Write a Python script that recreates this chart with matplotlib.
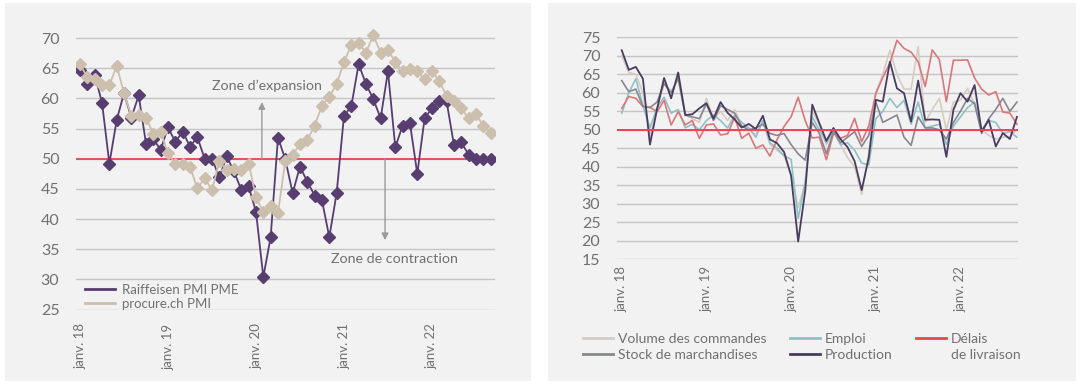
import numpy as np
import matplotlib
matplotlib.use('Agg')
import matplotlib.pyplot as plt
from matplotlib.patches import Rectangle
from matplotlib.lines import Line2D

plt.rcParams['font.family'] = ['Lato', 'DejaVu Sans']

##------------- data -----------------
mois = np.arange(57)                      # janv. 18 ... sept. 22
tick_pos = [0, 12, 24, 36, 48]
tick_lab = ['janv. 18', 'janv. 19', 'janv. 20', 'janv. 21', 'janv. 22']

# gauche : PMI
raiffeisen = [64.8, 62.4, 63.9, 59.3, 49.2, 56.4, 60.9, 56.8, 60.5, 52.5,
              53.2, 51.5, 55.2, 52.8, 54.5, 52.0, 53.6, 50.0, 50.0, 46.9,
              50.4, 47.9, 44.8, 45.4, 41.2, 30.4, 37.0, 53.5, 49.9, 44.3,
              48.7, 46.2, 43.9, 43.1, 37.0, 44.3, 57.1, 58.7, 65.7, 62.4,
              59.9, 56.7, 64.5, 51.9, 55.5, 55.9, 47.5, 56.7, 58.4, 59.6,
              59.5, 52.3, 52.7, 50.7, 49.9, 49.9, 49.9]
procure = [65.7, 63.5, 63.3, 62.2, 62.2, 65.4, 60.9, 57.1, 57.2, 56.8,
           54.1, 54.5, 50.9, 49.2, 49.2, 48.7, 45.1, 46.8, 44.8, 49.6,
           48.1, 48.3, 48.1, 49.2, 43.6, 41.2, 42.2, 41.0, 49.7, 50.7,
           52.4, 53.1, 55.5, 58.8, 60.3, 62.4, 66.0, 68.9, 69.2, 67.6,
           70.5, 67.6, 68.0, 66.1, 64.5, 64.9, 64.5, 63.2, 64.5, 62.9,
           60.4, 59.6, 58.4, 56.7, 57.5, 55.4, 54.3]

# droite : sous-indices
volume = [70.0, 65.5, 65.0, 60.0, 48.0, 56.0, 62.5, 60.5, 63.5, 54.0,
          53.0, 52.0, 58.5, 53.0, 55.0, 52.5, 55.5, 51.0, 50.5, 48.5,
          52.5, 46.0, 44.5, 43.0, 38.0, 29.0, 35.5, 55.0, 51.5, 46.0,
          49.5, 46.0, 42.5, 40.0, 32.5, 43.5, 60.0, 65.0, 71.5, 65.0,
          61.0, 61.0, 72.5, 52.0, 55.5, 58.5, 50.0, 57.5, 58.0, 61.2,
          57.0, 50.0, 48.5, 47.5, 48.0, 48.2, 50.0]
emploi = [54.5, 60.0, 63.8, 56.5, 50.5, 56.0, 58.8, 54.5, 55.5, 50.5,
          51.5, 50.0, 52.5, 54.0, 52.5, 50.5, 54.0, 52.0, 50.5, 48.0,
          52.5, 46.5, 45.0, 43.0, 42.0, 26.0, 36.0, 53.5, 50.0, 46.5,
          50.0, 46.0, 46.5, 44.5, 41.0, 40.5, 53.0, 55.0, 58.5, 56.0,
          58.0, 51.5, 57.5, 50.5, 51.0, 51.5, 46.0, 51.0, 53.5, 56.0,
          57.5, 50.0, 52.5, 52.0, 49.0, 49.5, 48.0]
delais = [55.8, 59.0, 58.5, 56.3, 56.1, 54.9, 57.9, 51.3, 54.9, 51.3,
          52.5, 47.7, 51.3, 51.6, 48.6, 48.9, 53.4, 47.7, 49.1, 45.0,
          45.9, 42.9, 47.3, 50.9, 53.5, 58.8, 52.5, 47.8, 48.0, 41.9,
          49.0, 47.7, 48.5, 53.1, 46.8, 51.0, 59.8, 64.2, 68.0, 74.2,
          72.0, 71.0, 68.4, 61.7, 71.6, 69.0, 57.6, 68.8, 68.8, 68.9,
          64.0, 61.0, 59.4, 60.3, 54.8, 54.5, 51.5]
stock = [63.3, 60.3, 61.0, 56.3, 56.0, 57.5, 62.5, 60.0, 64.0, 54.0,
         53.5, 53.0, 57.0, 52.5, 56.5, 55.5, 54.5, 51.0, 50.0, 50.5,
         51.5, 49.0, 48.5, 49.0, 46.0, 43.5, 41.8, 52.0, 49.0, 43.5,
         49.5, 46.5, 48.0, 49.5, 45.5, 48.5, 57.5, 52.0, 53.0, 54.0,
         48.0, 45.8, 53.5, 50.5, 50.5, 50.0, 47.5, 52.0, 55.0, 58.5,
         57.0, 49.0, 53.0, 55.5, 58.5, 55.0, 57.5]
production = [71.5, 66.2, 67.0, 63.8, 46.0, 55.5, 64.0, 58.5, 65.5, 54.0,
              54.2, 55.8, 57.2, 53.0, 57.5, 54.6, 52.8, 50.6, 51.6, 50.2,
              53.8, 47.4, 46.4, 44.0, 37.6, 19.8, 33.5, 56.8, 51.8, 47.0,
              50.5, 47.5, 45.3, 41.5, 33.7, 42.5, 58.1, 57.6, 68.4, 61.2,
              59.9, 52.2, 63.3, 52.7, 52.8, 52.7, 42.7, 55.4, 59.9, 57.6,
              62.1, 49.5, 52.7, 45.5, 49.1, 47.5, 53.5]

##------------- style -----------------
txt_c = '#707070'
grid_c = '#c4c4c4'
red = '#e5484d'
purple = '#573d70'
beige = '#cdbfad'

W, H = 1080, 388
fig = plt.figure(figsize=(W / 100, H / 100), dpi=100)
fig.patch.set_facecolor('white')

# grey panels, behind the axes
fig.patches.append(Rectangle((5 / W, 7 / H), 526 / W, 378 / H, transform=fig.transFigure,
                             facecolor='#f2f2f2', edgecolor='none', zorder=-5))
fig.patches.append(Rectangle((548 / W, 7 / H), 528 / W, 378 / H, transform=fig.transFigure,
                             facecolor='#f2f2f2', edgecolor='none', zorder=-5))


def style_axes(ax, yticks, xpad):
    ax.set_facecolor('none')
    for s in ax.spines.values():
        s.set_visible(False)
    ax.set_yticks(yticks)
    ax.set_xticks(tick_pos)
    ax.set_xticklabels(tick_lab, rotation=90, fontsize=9.5, color=txt_c)
    ax.tick_params(axis='y', length=0, pad=12, labelsize=11.5, labelcolor=txt_c)
    ax.tick_params(axis='x', length=0, pad=xpad)
    ax.yaxis.grid(True, color=grid_c, lw=1)
    ax.set_axisbelow(True)


##------------- left chart -----------------
ax1 = fig.add_axes([76 / W, 78.5 / H, 419 / W, 283.4 / H])
style_axes(ax1, np.arange(25, 71, 5), 10)
ax1.set_xlim(-0.55, 56.6)
ax1.set_ylim(25, 72)

ax1.axhline(50, color=red, lw=1.3, zorder=1.8)
ax1.plot(mois, raiffeisen, color=purple, lw=1.3, marker='D', ms=5.8, label='Raiffeisen PMI PME')
ax1.plot(mois, procure, color=beige, lw=1.3, marker='D', ms=5.8, label='procure.ch PMI')

arrow = dict(arrowstyle='-|>', color='#9a9a9a', lw=1, mutation_scale=10, shrinkA=0, shrinkB=0)
ax1.annotate('', xy=(24.8, 59.4), xytext=(24.8, 50), arrowprops=arrow)
ax1.annotate('', xy=(41.6, 36.5), xytext=(41.6, 50), arrowprops=arrow)
ax1.text(18.0, 62.1, 'Zone d’expansion', ha='left', va='center', fontsize=10.3, color=txt_c)
ax1.text(34.2, 33.3, 'Zone de contraction', ha='left', va='center', fontsize=10.3, color=txt_c)

leg1 = ax1.legend(loc='lower left', bbox_to_anchor=(0.021, 0.0), frameon=False, fontsize=9.5,
                  handlelength=2.3, handletextpad=0.5, labelspacing=0.15, borderpad=0,
                  borderaxespad=0)
for h in leg1.legend_handles:
    h.set_marker('')
    h.set_linewidth(2)
for t in leg1.get_texts():
    t.set_color(txt_c)

##------------- right chart -----------------
ax2 = fig.add_axes([617 / W, 128.7 / H, 401 / W, 222 / H])
style_axes(ax2, np.arange(15, 76, 5), 5)
ax2.set_xlim(-0.67, 56.15)
ax2.set_ylim(15, 75)

ax2.plot(mois, volume, color='#d6ccc2', lw=1.2)
ax2.plot(mois, emploi, color='#8fc2c4', lw=1.2)
ax2.plot(mois, delais, color='#d8787a', lw=1.2)
ax2.plot(mois, stock, color='#868790', lw=1.2)
ax2.plot(mois, production, color='#4a3b5f', lw=1.3)
ax2.axhline(50, color=red, lw=1.4, zorder=3)

h_vol = Line2D([], [], color='#d6ccc2', lw=2)
h_emp = Line2D([], [], color='#8fc2c4', lw=2)
h_del = Line2D([], [], color=red, lw=2)
h_sto = Line2D([], [], color='#868790', lw=2)
h_pro = Line2D([], [], color='#4a3b5f', lw=2)
h_vide = Line2D([], [], color='none', lw=0)

leg2 = fig.legend([h_vol, h_sto, h_emp, h_pro, h_del, h_vide],
                  ['Volume des commandes', 'Stock de marchandises', 'Emploi', 'Production',
                   'Délais', 'de livraison'],
                  loc='upper left', bbox_to_anchor=(583 / W, 1 - 333 / H), ncol=3,
                  frameon=False, fontsize=10, handlelength=2.15, handletextpad=0.36,
                  labelspacing=0.3, columnspacing=1.7, borderpad=0, borderaxespad=0)
for t in leg2.get_texts():
    t.set_color(txt_c)

fig.savefig('out.png', dpi=100, facecolor='white')
